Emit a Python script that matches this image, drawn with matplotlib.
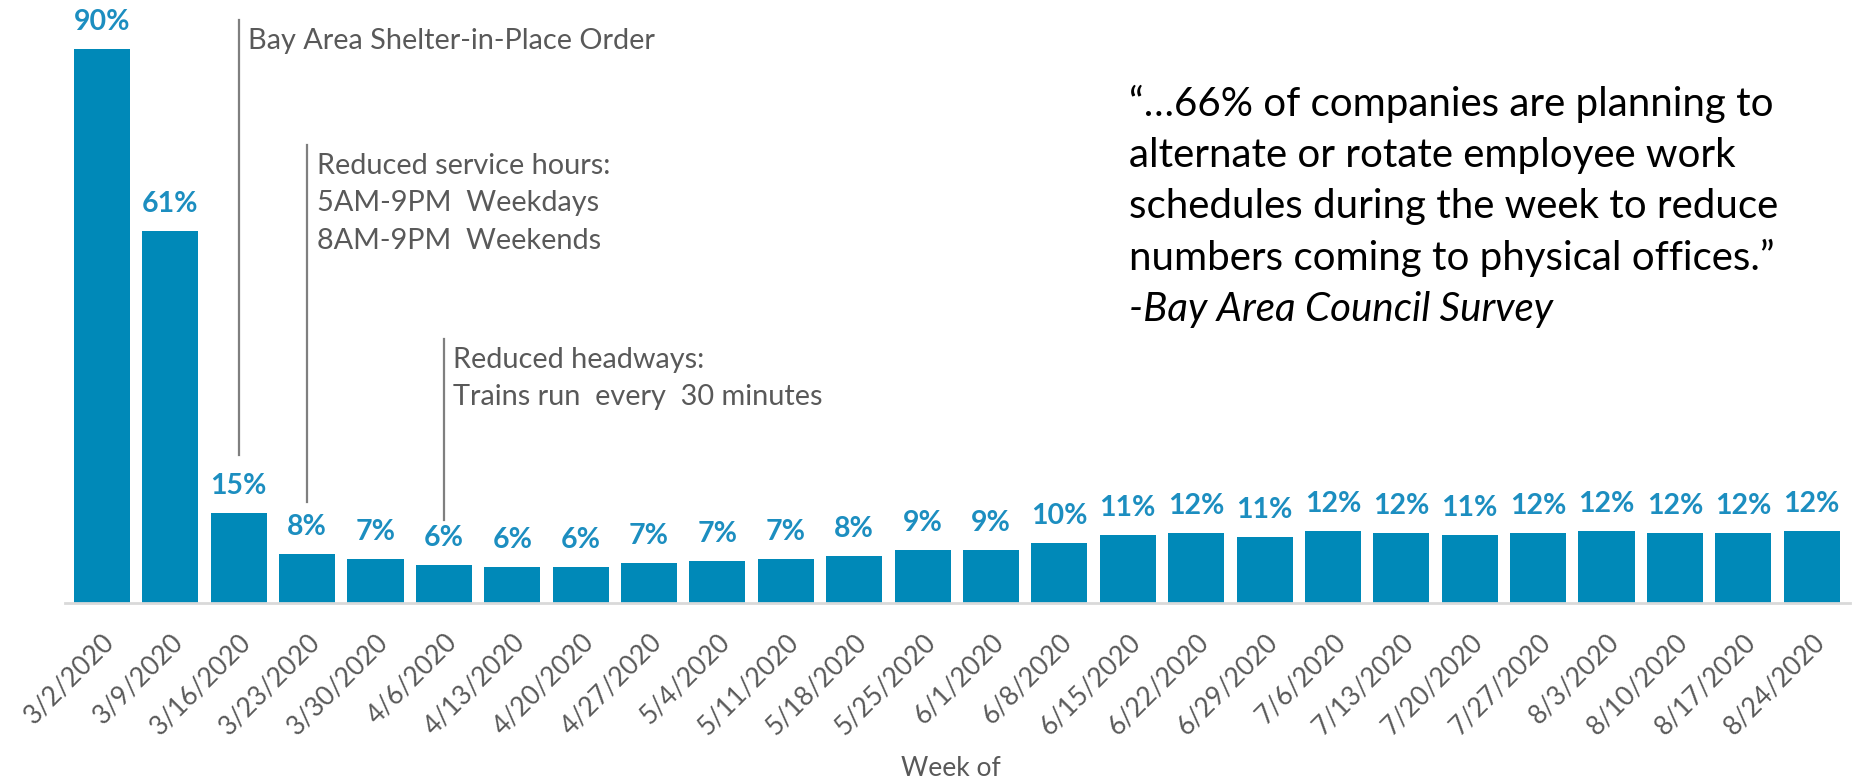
import matplotlib
matplotlib.use("Agg")
import matplotlib.pyplot as plt

weeks = ["3/2/2020", "3/9/2020", "3/16/2020", "3/23/2020", "3/30/2020", "4/6/2020",
         "4/13/2020", "4/20/2020", "4/27/2020", "5/4/2020", "5/11/2020", "5/18/2020",
         "5/25/2020", "6/1/2020", "6/8/2020", "6/15/2020", "6/22/2020", "6/29/2020",
         "7/6/2020", "7/13/2020", "7/20/2020", "7/27/2020", "8/3/2020", "8/10/2020",
         "8/17/2020", "8/24/2020"]
ridership = [90.0, 60.4, 14.7, 8.0, 7.1, 6.2, 5.8, 5.8, 6.5, 6.8, 7.1, 7.7, 8.6, 8.6,
             9.8, 11.0, 11.4, 10.8, 11.7, 11.4, 11.1, 11.4, 11.7, 11.4, 11.4, 11.7]
labels = ["90%", "61%", "15%", "8%", "7%", "6%", "6%", "6%", "7%", "7%", "7%", "8%",
          "9%", "9%", "10%", "11%", "12%", "11%", "12%", "12%", "11%", "12%", "12%",
          "12%", "12%", "12%"]

# events: (bar index, line top, line bottom, text lines)
events = [
    (2, 94.8, 24.0, ["Bay Area Shelter-in-Place Order"]),
    (3, 74.5, 16.4, ["Reduced service hours:", "5AM-9PM  Weekdays", "8AM-9PM  Weekends"]),
    (5, 42.9, 13.5, ["Reduced headways:", "Trains run  every  30 minutes"]),
]
quote = ["\u201c\u202666% of companies are planning to",
         "alternate or rotate employee work",
         "schedules during the week to reduce",
         "numbers coming to physical offices.\u201d"]
source = "-Bay Area Council Survey"

BAR = "#0089B8"
LBL = "#1C8EC0"
GREY = "#595959"
plt.rcParams["font.family"] = ["Lato", "DejaVu Sans"]

fig = plt.figure(figsize=(18.53, 7.83), dpi=100)
ax = fig.add_axes([65 / 1853, 1 - 603 / 783, (1850 - 65) / 1853, 603 / 783])
x = list(range(len(weeks)))
ax.bar(x, ridership, width=0.82, color=BAR, zorder=2)
for xi, v, s in zip(x, ridership, labels):
    ax.annotate(s, (xi, v), xytext=(0, 10), textcoords="offset points", ha="center",
                va="bottom", fontsize=20.5, fontweight="bold", color=LBL)

for idx, top, bot, lines in events:
    ax.plot([idx, idx], [bot, top], color="#7F7F7F", lw=1.6, zorder=1)
    for k, t in enumerate(lines):
        ax.text(idx + 0.14, top - 3.4 - k * 6.1, t, fontsize=20.8, color=GREY,
                ha="left", va="center")

ax.set_xlim(-0.54, 25.56)
ax.set_ylim(0, 98)
for sp in ["top", "right", "left"]:
    ax.spines[sp].set_visible(False)
ax.spines["bottom"].set_color("#D9D9D9")
ax.spines["bottom"].set_linewidth(2)
ax.set_yticks([])
ax.set_xticks(x)
ax.set_xticklabels(weeks, rotation=45, ha="right", rotation_mode="anchor",
                   fontsize=19, color=GREY)
ax.tick_params(axis="x", length=0, pad=19)

fig.text(951 / 1853, 1 - 769 / 783, "Week of", ha="center", va="center",
         fontsize=19, color=GREY)
for k, t in enumerate(quote):
    fig.text(1129 / 1853, 1 - (104 + k * 51.4) / 783, t, ha="left", va="center",
             fontsize=29, color="black")
fig.text(1129 / 1853, 1 - (104 + 4 * 51.4) / 783, source, ha="left", va="center",
         fontsize=29, color="black", style="italic")

fig.savefig("out.png", dpi=100)
